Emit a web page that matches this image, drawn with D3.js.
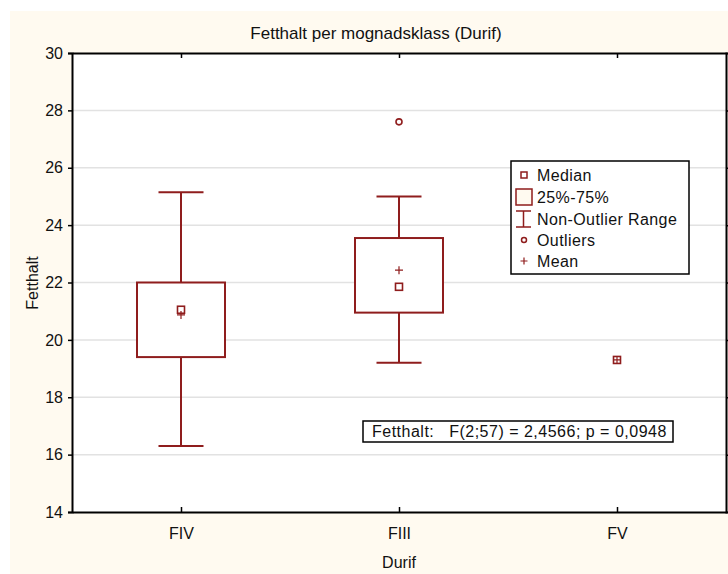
<!DOCTYPE html>
<html>
<head>
<meta charset="utf-8">
<script src="https://cdn.jsdelivr.net/npm/d3@7"></script>
<style>
  body { margin: 0; background: #fff; }
  text { font-family: "Liberation Sans", Arial, sans-serif; fill: #111; }
</style>
</head>
<body>
<svg id="chart" width="728" height="574"></svg>
<script>
// values
var categories = ["FIV", "FIII", "FV"];
var whiskerLow = [16.3, 19.2, 19.3];
var q1 = [19.4, 20.95, 19.3];
var medians = [21.05, 21.85, 19.3];
var q3 = [22.0, 23.55, 19.3];
var whiskerHigh = [25.15, 25.0, 19.3];
var means = [20.87, 22.43, 19.3];
var outliers = [{cat: "FIII", value: 27.6}];
var yTicks = [14, 16, 18, 20, 22, 24, 26, 28, 30];
var legendLabels = ["Median", "25%-75%", "Non-Outlier Range", "Outliers", "Mean"];
var statText = "Fetthalt:   F(2;57) = 2,4566; p = 0,0948";

var red = "#8f1d1d";
var svg = d3.select("#chart");

svg.append("rect")
    .attr("x", 10).attr("y", 11)
    .attr("width", 718).attr("height", 563)
    .attr("fill", "#fffaf0");

var x = d3.scalePoint().domain(categories).range([72, 726]).padding(0.5);
var y = d3.scaleLinear().domain([14, 30]).range([512, 53]);

svg.append("rect")
    .attr("x", 72).attr("y", 53)
    .attr("width", 654).attr("height", 459)
    .attr("fill", "#fff");

// gridlines
svg.append("g")
    .selectAll("line")
    .data(yTicks.slice(1, -1))
    .enter().append("line")
    .attr("x1", 72).attr("x2", 726)
    .attr("y1", d => y(d)).attr("y2", d => y(d))
    .attr("stroke", "#e2e2e2")
    .attr("stroke-width", 1.5);

// axes
var gLeft = svg.append("g").attr("transform", "translate(72,0)")
    .call(d3.axisLeft(y).tickValues(yTicks).tickSize(4).tickPadding(5));
var gRight = svg.append("g").attr("transform", "translate(726,0)")
    .call(d3.axisRight(y).tickValues(yTicks).tickSize(4).tickFormat(""));
var gBottom = svg.append("g").attr("transform", "translate(0,512)")
    .call(d3.axisBottom(x).tickSizeInner(-5).tickSizeOuter(0).tickPadding(16));
var gTop = svg.append("g").attr("transform", "translate(0,53)")
    .call(d3.axisTop(x).tickSizeInner(-5).tickSizeOuter(0).tickFormat(""));

[gLeft, gRight, gBottom, gTop].forEach(function (g) {
    g.select(".domain").attr("stroke", "#000").attr("stroke-width", 2);
    g.selectAll(".tick line").attr("stroke", "#000").attr("stroke-width", 1.5);
});
gLeft.selectAll("text").style("font-size", "16px").attr("fill", "#111");
gBottom.selectAll("text").style("font-size", "16px").attr("fill", "#111");

// boxes
var boxW = 88, capW = 45;
categories.forEach(function (c, i) {
    var cx = x(c);
    var g = svg.append("g").attr("stroke", red).attr("stroke-width", 2).attr("fill", "none");
    if (whiskerHigh[i] > whiskerLow[i]) {
        g.append("line").attr("x1", cx).attr("x2", cx)
            .attr("y1", y(whiskerHigh[i])).attr("y2", y(q3[i]));
        g.append("line").attr("x1", cx).attr("x2", cx)
            .attr("y1", y(q1[i])).attr("y2", y(whiskerLow[i]));
        g.append("line").attr("x1", cx - capW / 2).attr("x2", cx + capW / 2)
            .attr("y1", y(whiskerHigh[i])).attr("y2", y(whiskerHigh[i]));
        g.append("line").attr("x1", cx - capW / 2).attr("x2", cx + capW / 2)
            .attr("y1", y(whiskerLow[i])).attr("y2", y(whiskerLow[i]));
    }
    if (q3[i] > q1[i]) {
        g.append("rect")
            .attr("x", cx - boxW / 2).attr("y", y(q3[i]))
            .attr("width", boxW).attr("height", y(q1[i]) - y(q3[i]))
            .attr("fill", "#fff");
    }
    g.append("rect")
        .attr("x", cx - 3.5).attr("y", y(medians[i]) - 3.5)
        .attr("width", 7).attr("height", 7)
        .attr("fill", "#fff").attr("stroke-width", 1.6);
    g.append("path")
        .attr("d", "M" + (cx - 4) + "," + y(means[i]) + "h8M" + cx + "," + (y(means[i]) - 4) + "v8")
        .attr("stroke-width", 1.2);
});

svg.append("g")
    .selectAll("circle")
    .data(outliers)
    .enter().append("circle")
    .attr("cx", d => x(d.cat)).attr("cy", d => y(d.value))
    .attr("r", 3)
    .attr("fill", "#fff").attr("stroke", red).attr("stroke-width", 1.6);

// legend
var lg = svg.append("g");
lg.append("rect")
    .attr("x", 511).attr("y", 161).attr("width", 178).attr("height", 113)
    .attr("fill", "#fff").attr("stroke", "#000").attr("stroke-width", 1.5);
var rowY = [175, 197, 219, 240, 261];
lg.selectAll("text")
    .data(legendLabels)
    .enter().append("text")
    .attr("x", 537).attr("y", (d, i) => rowY[i] + 6)
    .style("font-size", "16px")
    .style("letter-spacing", "0.4px")
    .text(d => d);
var sx = 524;
lg.append("rect").attr("x", sx - 3).attr("y", rowY[0] - 3).attr("width", 6).attr("height", 6)
    .attr("fill", "#fff").attr("stroke", red).attr("stroke-width", 1.5);
lg.append("rect").attr("x", sx - 8).attr("y", rowY[1] - 8).attr("width", 16).attr("height", 16)
    .attr("fill", "#fffaf0").attr("stroke", red).attr("stroke-width", 1.5);
lg.append("path")
    .attr("d", "M" + (sx - 8) + "," + (rowY[2] - 8) + "h15M" + (sx - 0.5) + "," + (rowY[2] - 8) + "v16M" + (sx - 8) + "," + (rowY[2] + 8) + "h15")
    .attr("fill", "none").attr("stroke", red).attr("stroke-width", 1.5);
lg.append("circle").attr("cx", sx).attr("cy", rowY[3]).attr("r", 2.5)
    .attr("fill", "#fff").attr("stroke", red).attr("stroke-width", 1.5);
lg.append("path")
    .attr("d", "M" + (sx - 3.5) + "," + rowY[4] + "h7M" + sx + "," + (rowY[4] - 3.5) + "v7")
    .attr("stroke", red).attr("stroke-width", 1.2);

// statistics box
svg.append("rect")
    .attr("x", 363).attr("y", 421).attr("width", 310).attr("height", 21)
    .attr("fill", "#fff").attr("stroke", "#000").attr("stroke-width", 1.5);
svg.append("text")
    .attr("x", 372).attr("y", 437)
    .attr("xml:space", "preserve")
    .style("white-space", "pre")
    .style("font-size", "16px")
    .style("letter-spacing", "0.5px")
    .text(statText);

// titles
svg.append("text")
    .attr("x", 376).attr("y", 39)
    .attr("text-anchor", "middle")
    .style("font-size", "17px")
    .text("Fetthalt per mognadsklass (Durif)");
svg.append("text")
    .attr("x", 399).attr("y", 568)
    .attr("text-anchor", "middle")
    .style("font-size", "16px")
    .text("Durif");
svg.append("text")
    .attr("transform", "translate(38,283) rotate(-90)")
    .attr("text-anchor", "middle")
    .style("font-size", "16px")
    .text("Fetthalt");
</script>
</body>
</html>
